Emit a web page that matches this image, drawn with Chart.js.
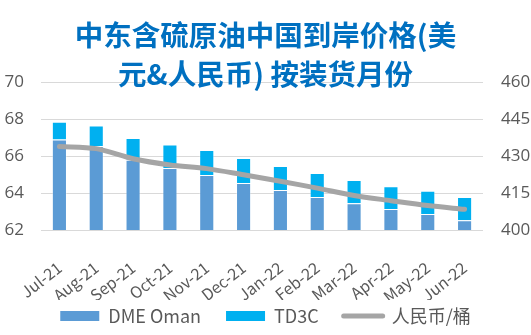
<!DOCTYPE html>
<html>
<head>
<meta charset="utf-8">
<script src="https://cdn.jsdelivr.net/npm/chart.js@4.4.1/dist/chart.umd.min.js"></script>
<style>
  html, body { margin: 0; padding: 0; background: #fff; }
  #wrap { width: 531px; height: 335px; }
</style>
</head>
<body>
<div id="wrap"><canvas id="oilChart" width="531" height="335"></canvas></div>
<script>
// 数据
const months = ['Jul-21', 'Aug-21', 'Sep-21', 'Oct-21', 'Nov-21', 'Dec-21', 'Jan-22', 'Feb-22', 'Mar-22', 'Apr-22', 'May-22', 'Jun-22'];
const dmeOman = [66.9, 66.55, 65.8, 65.35, 64.97, 64.54, 64.17, 63.78, 63.45, 63.14, 62.87, 62.53];
const td3c = [0.95, 1.1, 1.18, 1.27, 1.36, 1.36, 1.29, 1.3, 1.25, 1.23, 1.25, 1.25];
const rmbPerBarrel = [433.9, 433.0, 428.9, 426.4, 424.9, 422.4, 419.8, 417.0, 414.0, 411.9, 409.9, 408.4];
const titleLines = ['中东含硫原油中国到岸价格(美', '元&人民币) 按装货月份'];

const textGrey = '#595959';
const gridGrey = '#D9D9D9';
const tickFont = { family: "'Open Sans', 'Noto Sans CJK SC'", size: 17 };

new Chart(document.getElementById('oilChart'), {
    type: 'bar',
    data: {
        labels: months,
        datasets: [{
            label: 'DME Oman',
            data: dmeOman,
            backgroundColor: '#5B9BD5',
            borderColor: 'rgba(255, 255, 255, 0.35)',
            borderWidth: 1,
            yAxisID: 'y',
            order: 1
        }, {
            label: 'TD3C',
            data: td3c,
            backgroundColor: '#00B0F0',
            borderColor: 'rgba(255, 255, 255, 0.35)',
            borderWidth: 1,
            yAxisID: 'y',
            order: 1
        }, {
            type: 'line',
            label: '人民币/桶',
            data: rmbPerBarrel,
            borderColor: '#A5A5A5',
            backgroundColor: '#A5A5A5',
            borderWidth: 5,
            borderCapStyle: 'round',
            tension: 0.3,
            pointRadius: 0,
            yAxisID: 'y1',
            order: 0
        }]
    },
    options: {
        responsive: false,
        animation: false,
        datasets: {
            bar: { barPercentage: 0.41, categoryPercentage: 1 }
        },
        layout: { padding: 0 },
        plugins: {
            tooltip: { enabled: false },
            title: {
                display: true,
                text: titleLines,
                color: '#0070C0',
                font: { family: "'Noto Sans CJK SC'", size: 28.5, weight: 'bold', lineHeight: 1.37 },
                padding: { top: 16, bottom: -12 }
            },
            legend: {
                position: 'bottom',
                labels: {
                    usePointStyle: true,
                    pointStyleWidth: 39,
                    boxHeight: 10,
                    padding: 7,
                    color: textGrey,
                    font: { family: "'Noto Sans CJK SC'", size: 18 },
                    sort: (a, b) => a.datasetIndex - b.datasetIndex,
                    generateLabels(chart) {
                        const items = Chart.defaults.plugins.legend.labels.generateLabels(chart);
                        items.forEach(item => {
                            const ds = chart.data.datasets[item.datasetIndex];
                            if (ds.type === 'line') {
                                item.pointStyle = 'line';
                                item.lineWidth = 5;
                                item.lineCap = 'round';
                                item.strokeStyle = ds.borderColor;
                            } else {
                                item.pointStyle = 'rect';
                                item.lineWidth = 0;
                                // 图例项之间的间距
                                item.text += '\u3000';
                            }
                        });
                        return items;
                    }
                }
            }
        },
        scales: {
            x: {
                stacked: true,
                grid: { display: false },
                border: { display: false },
                ticks: {
                    color: textGrey,
                    font: { family: "'Noto Sans CJK SC'", size: 16 },
                    minRotation: 38,
                    maxRotation: 38,
                    padding: 20
                },
                afterFit(scale) { scale.height = 70; }
            },
            y: {
                stacked: true,
                position: 'left',
                min: 62,
                max: 70,
                ticks: { stepSize: 2, color: textGrey, font: tickFont, padding: 17 },
                grid: { color: gridGrey, lineWidth: 1, drawTicks: false },
                border: { display: false },
                afterFit(scale) { scale.width = 41; }
            },
            y1: {
                position: 'right',
                min: 400,
                max: 460,
                ticks: { stepSize: 15, color: textGrey, font: tickFont, padding: 18 },
                grid: { drawOnChartArea: false, drawTicks: false },
                border: { display: false },
                afterFit(scale) { scale.width = 48; }
            }
        }
    }
});
</script>
</body>
</html>
